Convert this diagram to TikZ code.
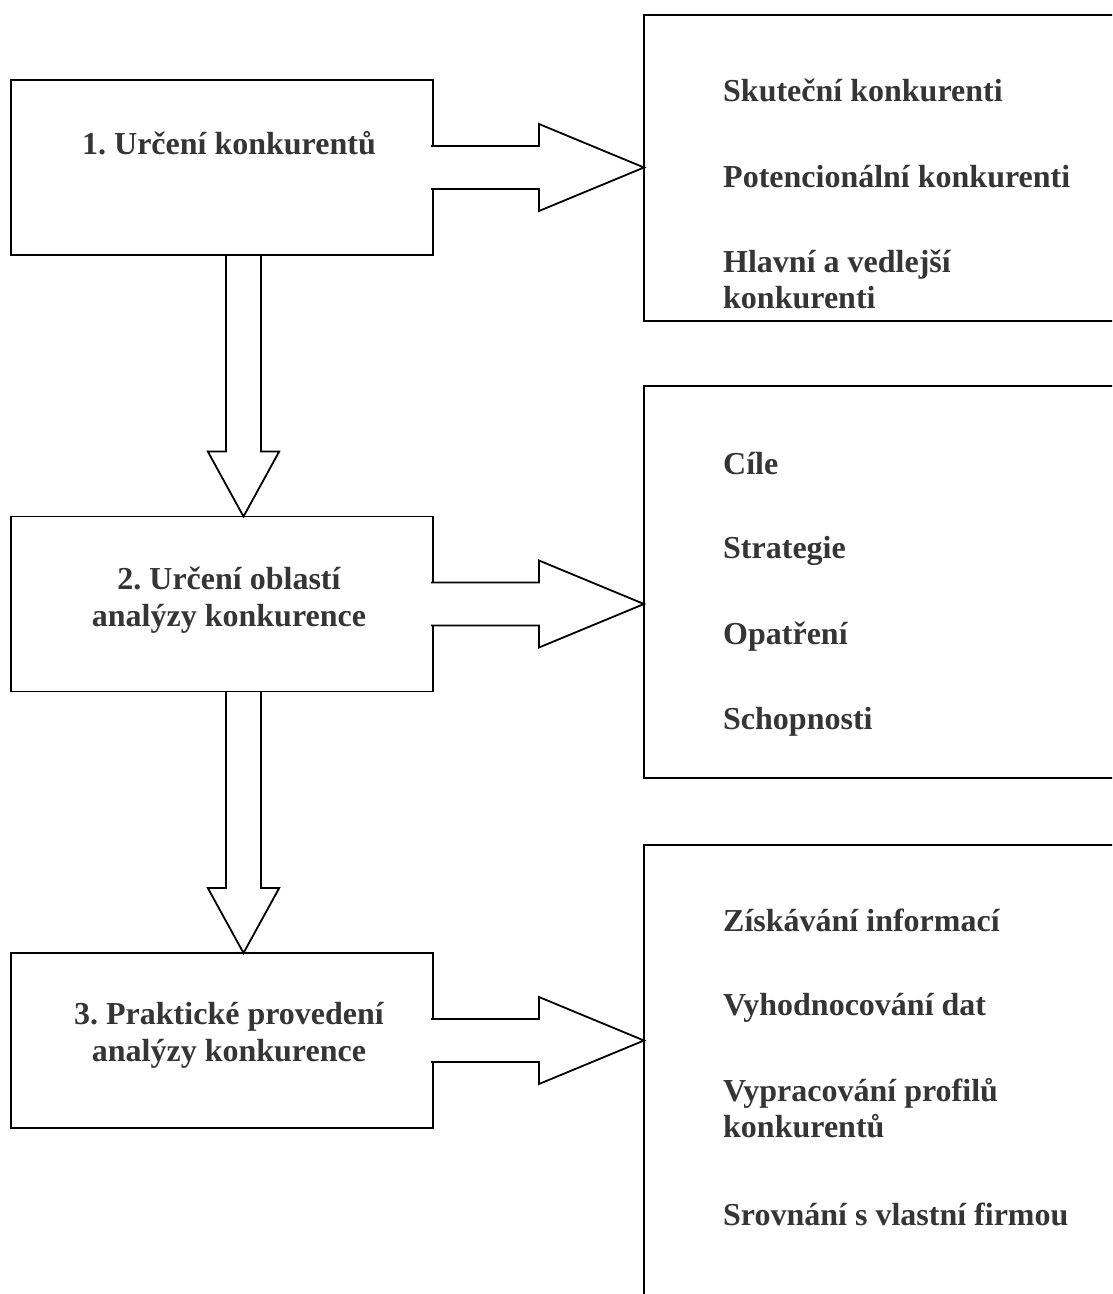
\documentclass[tikz,border=0pt]{standalone}
\usepackage{fontspec}
\setmainfont{Liberation Serif}
\usetikzlibrary{calc}
\definecolor{inkgray}{HTML}{353535}
\frenchspacing
\begin{document}
\begin{tikzpicture}[x=1pt,y=-1pt,
  box/.style={draw=black, line width=1.8pt, rectangle, inner sep=0pt, outer sep=0pt, anchor=north west},
  stepbox/.style={box, minimum width=422pt, minimum height=175pt},
  listbox/.style={box, minimum width=500pt},
  steplabel/.style={font=\bfseries\fontsize{32}{37}\selectfont, text=inkgray,
    inner sep=0pt, align=center, anchor=base},
  itemlabel/.style={font=\bfseries\fontsize{32}{36}\selectfont, text=inkgray,
    inner sep=0pt, align=left, anchor=base west},
  blockarrow/.style={draw=black, line width=1.8pt, line join=miter}]
\useasboundingbox (0,0) rectangle (1112,1294);
\clip (0,0) rectangle (1112,1294);

% process steps
\node[stepbox] (s1) at (11,80) {};
\node[stepbox] (s2) at (11,516.5) {};
\node[stepbox] (s3) at (11,953) {};

% detail panels (they run off the right edge)
\node[listbox, minimum height=306pt] (r1) at (644,15) {};
\node[listbox, minimum height=392pt] (r2) at (644,386) {};
\node[listbox, minimum height=480pt] (r3) at (644,845) {};

% step labels (a multi-line label sits on the baseline of its last line)
\node[steplabel] (t1) at (229,154) {1. Určení konkurentů};
\node[steplabel] (t2) at (229,626.5) {2. Určení oblastí\\analýzy konkurence};
\node[steplabel] (t3) at (229,1061.5) {3. Praktické provedení\\analýzy konkurence};

% panel items
\node[itemlabel] (a1) at (723,101.7) {Skuteční konkurenti};
\node[itemlabel] (a2) at (723,187) {Potencionální konkurenti};
\node[itemlabel] (a3) at (723,308.5) {Hlavní a vedlejší\\konkurenti};

\node[itemlabel] (b1) at (723,474) {Cíle};
\node[itemlabel] (b2) at (723,558.5) {Strategie};
\node[itemlabel] (b3) at (723,644) {Opatření};
\node[itemlabel] (b4) at (723,729) {Schopnosti};

\node[itemlabel] (c1) at (723,931.7) {Získávání informací};
\node[itemlabel] (c2) at (723,1015.7) {Vyhodnocování dat};
\node[itemlabel] (c3) at (723,1137) {Vypracování profilů\\konkurentů};
\node[itemlabel] (c4) at (723,1225) {Srovnání s vlastní firmou};

% hollow block arrows from each step to its panel
\foreach \s/\r in {s1/r1, s2/r2, s3/r3}{
  \coordinate (tip) at (\r.west |- \s.east);
  \draw[blockarrow, fill=white]
    ($(\s.east)+(-2,-21.5)$) -- ($(tip)+(-105,-21.5)$) -- ($(tip)+(-105,-43.5)$)
    -- (tip) -- ($(tip)+(-105,43.5)$) -- ($(tip)+(-105,21.5)$) -- ($(\s.east)+(-2,21.5)$);
}

% hollow block arrows between steps
\foreach \a/\b in {s1/s2, s2/s3}{
  \coordinate (vtip) at ($(\b.north)+(21.5,0)$);
  \draw[blockarrow]
    ($(\a.south)+(4,0)$) -- ($(vtip)+(-17.5,-65)$) -- ($(vtip)+(-35.7,-65)$)
    -- (vtip) -- ($(vtip)+(35.7,-65)$) -- ($(vtip)+(17.5,-65)$) -- ($(\a.south)+(39,0)$);
}
\end{tikzpicture}
\end{document}
